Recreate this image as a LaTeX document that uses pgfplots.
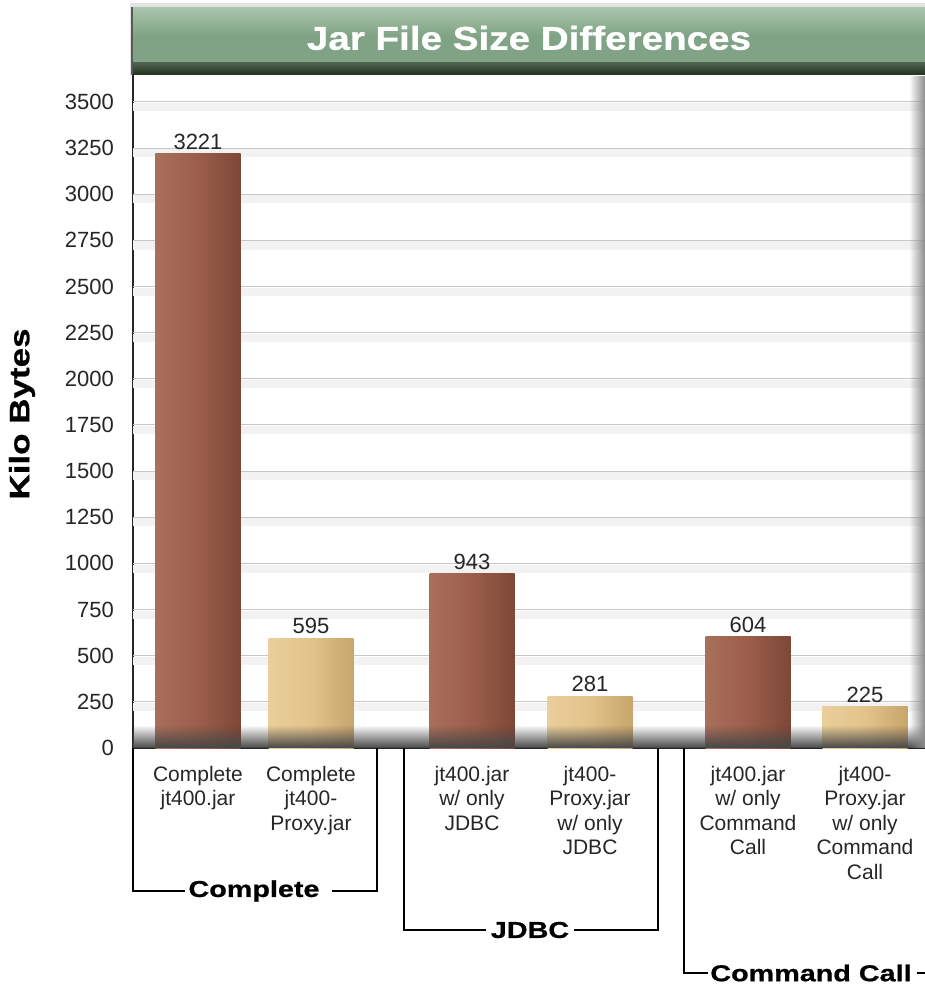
\documentclass[border=0pt]{standalone}
\usepackage{fontspec}
\setmainfont{Liberation Sans}
\newfontfamily\heavy[FakeStretch=1.25,FakeBold=0.8]{Liberation Sans Bold}
\newfontfamily\titlefont[FakeStretch=1.17,FakeBold=0.8]{Liberation Sans Bold}
\usepackage{pgfplots}
\pgfplotsset{compat=1.18}
\usetikzlibrary{fadings}
\definecolor{brownmid}{HTML}{9C5E4A}
\definecolor{brownl}{HTML}{A86F5B}
\definecolor{brownd}{HTML}{7C4837}
\definecolor{tanmid}{HTML}{E2C38A}
\definecolor{tanl}{HTML}{EACF9B}
\definecolor{tand}{HTML}{C7A56C}
\definecolor{greenband}{HTML}{7FA384}
\definecolor{greentop}{HTML}{A9C4AB}
\definecolor{greendark}{HTML}{23301F}
\pgfplotsset{
  brownbar/.style={bar shift=0pt, draw=none, left color=brownl, right color=brownd, middle color=brownmid},
  tanbar/.style={bar shift=0pt, draw=none, left color=tanl, right color=tand, middle color=tanmid},
}
\begin{document}
\begin{tikzpicture}
\path[use as bounding box] (-133pt,-237pt) rectangle (792pt,748pt);
% title band
\fill[gray!22] (-3pt,673pt) rectangle (792pt,745pt);
\shade[top color=greentop, bottom color=greenband, middle color=greenband] (0pt,684pt) rectangle (792pt,740pt);
\shade[top color=greenband!60!black, bottom color=greendark] (0pt,673pt) rectangle (792pt,685pt);
\draw[black!65, line width=2pt] (-1pt,673pt) -- (-1pt,741pt);
\node[text=white] at (396pt,710pt) {\titlefont\fontsize{33}{36}\selectfont Jar File Size Differences};
% y label
\node[rotate=90] at (-111pt,334pt) {\heavy\fontsize{28}{30}\selectfont Kilo Bytes};
\begin{axis}[
  at={(0pt,0pt)}, anchor=south west,
  scale only axis, width=792pt, height=673pt,
  xmin=0, xmax=792, ymin=0, ymax=3646,
  axis x line=bottom, axis y line=left,
  axis line style={-, line width=2pt, black!85},
  major tick length=0pt,
  ytick={0,250,...,3500},
  /pgf/number format/1000 sep={},
  /pgf/number format/assume math mode=true,
  yticklabel style={font=\fontsize{22}{24}\selectfont, text=black!85, inner sep=0pt, xshift=-19pt},
  xtick={65,178,339,457,615,732},
  xticklabels={{Complete\\jt400.jar},{Complete\\jt400-\\Proxy.jar},{jt400.jar\\w/ only\\JDBC},{jt400-\\Proxy.jar\\w/ only\\JDBC},{jt400.jar\\w/ only\\Command\\Call},{jt400-\\Proxy.jar\\w/ only\\Command\\Call}},
  xticklabel style={font=\fontsize{21}{24.5}\selectfont, text=black!85, align=center, anchor=north, inner sep=0pt, yshift=-18pt},
  ybar, bar width=85,
  nodes near coords,
  every node near coord/.append style={font=\fontsize{22}{24}\selectfont, text=black!85, inner sep=1pt, yshift=3pt},
  clip=false,
]
% grid bands and lines
\pgfplotsinvokeforeach{1,...,14}{
  \fill[black!5] (axis cs:0,#1*250-6) rectangle (axis cs:792,#1*250-50);
  \draw[black!22, line width=1pt] (axis cs:0,#1*250) -- (axis cs:792,#1*250);
}
\addplot[brownbar] coordinates {(65,3221)};
\addplot[tanbar] coordinates {(178,595)};
\addplot[brownbar] coordinates {(339,943)};
\addplot[tanbar] coordinates {(457,281)};
\addplot[brownbar] coordinates {(615,604)};
\addplot[tanbar] coordinates {(732,225)};
% floor shadow and right edge shading
\fill[black!72, path fading=north] (axis cs:0,0) rectangle (axis cs:792,125);
\fill[black!45, path fading=west] (axis cs:776,0) rectangle (axis cs:792,3646);
\end{axis}
% group brackets
\begin{scope}[line width=2pt, black]
\draw (0pt,0pt) -- (0pt,-143pt) -- (52pt,-143pt);
\draw (199pt,-143pt) -- (244pt,-143pt) -- (244pt,0pt);
\node at (121pt,-143pt) {\heavy\fontsize{23}{25}\selectfont Complete};
\draw (271pt,0pt) -- (271pt,-182pt) -- (353pt,-182pt);
\draw (441pt,-182pt) -- (525pt,-182pt) -- (525pt,0pt);
\node at (397pt,-182pt) {\heavy\fontsize{23}{25}\selectfont JDBC};
\draw (551pt,0pt) -- (551pt,-225pt) -- (575pt,-225pt);
\draw (784pt,-225pt) -- (792pt,-225pt);
\node at (678pt,-225pt) {\heavy\fontsize{23}{25}\selectfont Command Call};
\end{scope}
\end{tikzpicture}
\end{document}
